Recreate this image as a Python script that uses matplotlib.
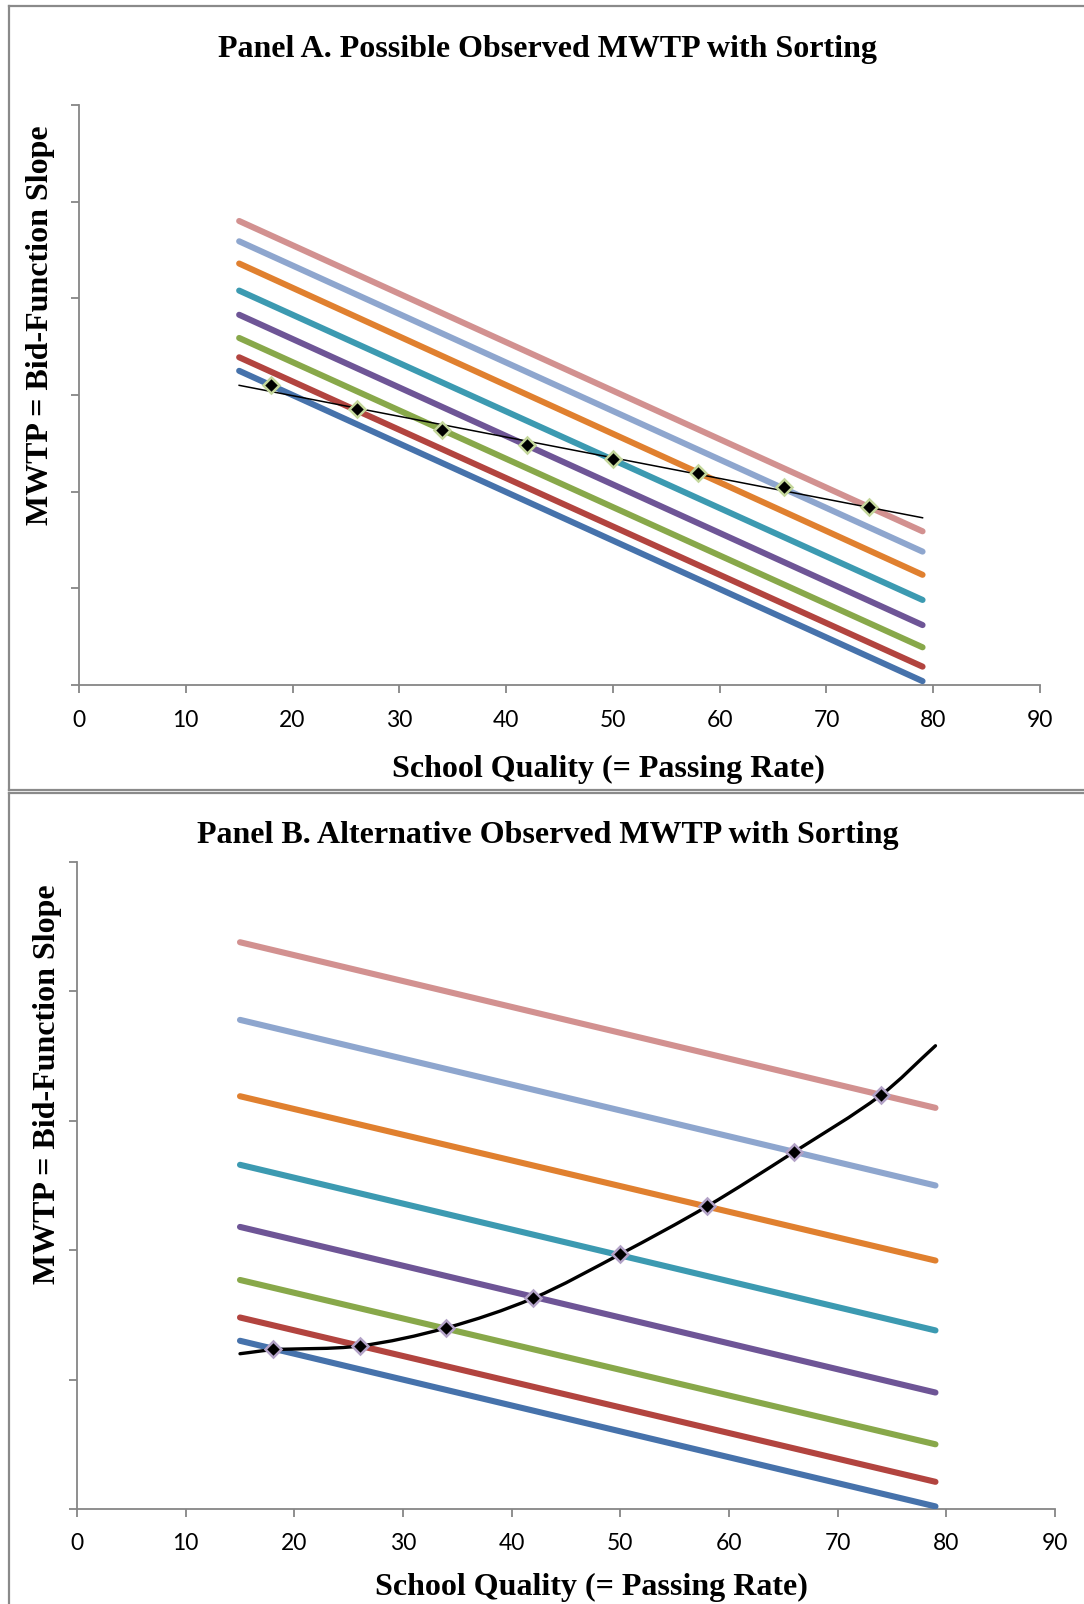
import numpy as np
import matplotlib
matplotlib.use('Agg')
import matplotlib.pyplot as plt
from matplotlib.path import Path
from matplotlib.patches import PathPatch
from matplotlib.lines import Line2D

W, H = 1084, 1604  # output size in pixels

# x range covered by every bid-function line
x_span = [15, 79]
x_ticks = [0, 10, 20, 30, 40, 50, 60, 70, 80, 90]

# Panel A: bid-function values at x=15 and x=79 (bottom line first)
a_start = [32.5, 33.9, 35.9, 38.3, 40.8, 43.6, 45.9, 48.0]
a_end = [0.4, 1.9, 3.9, 6.2, 8.8, 11.4, 13.8, 15.9]
a_obs_x = [18, 26, 34, 42, 50, 58, 66, 74]
a_obs_y = [31.0, 28.5, 26.4, 24.8, 23.4, 21.9, 20.5, 18.4]
a_fit_y = [31.0, 17.3]  # observed MWTP line at x=15 and x=79

# Panel B
b_start = [13.0, 14.8, 17.7, 21.8, 26.6, 31.9, 37.8, 43.8]
b_end = [0.2, 2.1, 5.0, 9.0, 13.8, 19.2, 25.0, 31.0]
b_obs_x = [18, 26, 34, 42, 50, 58, 66, 74]
b_obs_y = [12.4, 12.6, 14.0, 16.3, 19.7, 23.4, 27.6, 32.0]
b_curve_x = [15, 18, 26, 34, 42, 50, 58, 66, 74, 79]
b_curve_y = [12.0, 12.3, 12.6, 14.0, 16.3, 19.7, 23.4, 27.6, 32.0, 35.8]

line_colors = ['#4672AB', '#B2443F', '#88A84A', '#6E5596',
               '#3C9AB1', '#E0802F', '#8EA6CE', '#D29190']
axis_gray = '#868686'
serif = 'Liberation Serif'
tick_font = 'Lato'


def fx(x):
    return x / W


def fy(y):
    return 1 - y / H


def smooth_path(xs, ys):
    '''Smoothed line: cubic hermite in x drawn as bezier segments.'''
    xs = np.asarray(xs, float)
    ys = np.asarray(ys, float)
    n = len(xs)
    m = np.empty(n)
    m[0] = (ys[1] - ys[0]) / (xs[1] - xs[0])
    m[-1] = (ys[-1] - ys[-2]) / (xs[-1] - xs[-2])
    for i in range(1, n - 1):
        m[i] = (ys[i + 1] - ys[i - 1]) / (xs[i + 1] - xs[i - 1])
    verts = [(xs[0], ys[0])]
    codes = [Path.MOVETO]
    for i in range(n - 1):
        dx = xs[i + 1] - xs[i]
        verts += [(xs[i] + dx / 3, ys[i] + m[i] * dx / 3),
                  (xs[i + 1] - dx / 3, ys[i + 1] - m[i + 1] * dx / 3),
                  (xs[i + 1], ys[i + 1])]
        codes += [Path.CURVE4] * 3
    return Path(verts, codes)


def style_axes(ax, ymax, pad):
    ax.set_xlim(0, 90)
    ax.set_ylim(0, ymax)
    ax.set_xticks(x_ticks)
    ax.set_yticks(np.arange(0, ymax + 1, 10))
    ax.set_yticklabels([])
    for s in ['top', 'right']:
        ax.spines[s].set_visible(False)
    for s in ['left', 'bottom']:
        ax.spines[s].set_color(axis_gray)
        ax.spines[s].set_linewidth(1.3)
        ax.spines[s].set_zorder(0.5)
    ax.tick_params(axis='both', direction='out', color=axis_gray,
                   width=1.3, length=6)
    ax.tick_params(axis='x', labelsize=16.5, pad=pad)
    for lab in ax.get_xticklabels():
        lab.set_fontfamily(tick_font)


fig = plt.figure(figsize=(W / 100, H / 100), dpi=100)

# ---- Panel A ----
axA = fig.add_axes([fx(79), fy(685), fx(1040) - fx(79), fy(105) - fy(685)])
for i in range(len(a_start)):
    axA.plot(x_span, [a_start[i], a_end[i]], color=line_colors[i],
             lw=4.4, solid_capstyle='round', zorder=2)
axA.plot(x_span, a_fit_y, color='black', lw=1.1, zorder=3)
axA.plot(a_obs_x, a_obs_y, ls='none', marker='D', ms=8.5,
         mfc='black', mec='#C4D79B', mew=1.8, zorder=4)
style_axes(axA, 60, 12)

# ---- Panel B ----
axB = fig.add_axes([fx(77), fy(1509), fx(1055) - fx(77), fy(862) - fy(1509)])
for i in range(len(b_start)):
    axB.plot(x_span, [b_start[i], b_end[i]], color=line_colors[i],
             lw=4.4, solid_capstyle='round', zorder=2)
curve = PathPatch(smooth_path(b_curve_x, b_curve_y), fill=False,
                  edgecolor='black', lw=2.4, capstyle='round', zorder=3)
axB.add_patch(curve)
axB.plot(b_obs_x, b_obs_y, ls='none', marker='D', ms=8.5,
         mfc='black', mec='#B3A2C7', mew=1.8, zorder=4)
style_axes(axB, 50, 11)

# ---- titles and labels ----
title_kw = dict(family=serif, weight='bold', fontsize=23,
                ha='center', va='center')
fig.text(fx(547), fy(49), 'Panel A. Possible Observed MWTP with Sorting', **title_kw)
fig.text(fx(548), fy(835), 'Panel B. Alternative Observed MWTP with Sorting', **title_kw)
fig.text(fx(608), fy(769), 'School Quality (= Passing Rate)', **title_kw)
fig.text(fx(591), fy(1587), 'School Quality (= Passing Rate)', **title_kw)
fig.text(fx(41), fy(325), 'MWTP = Bid-Function Slope', rotation=90, **title_kw)
fig.text(fx(48), fy(1084), 'MWTP = Bid-Function Slope', rotation=90, **title_kw)

# ---- panel frames ----
frame_kw = dict(color='#8A8A8A', lw=1.6, transform=fig.transFigure)
fig.add_artist(Line2D([fx(9), fx(9)], [fy(6), fy(790)], **frame_kw))
fig.add_artist(Line2D([fx(9), fx(W + 5)], [fy(6), fy(6)], **frame_kw))
fig.add_artist(Line2D([fx(9), fx(W + 5)], [fy(790), fy(790)], **frame_kw))
fig.add_artist(Line2D([fx(9), fx(W + 5)], [fy(793), fy(793)], **frame_kw))
fig.add_artist(Line2D([fx(9), fx(9)], [fy(793), fy(H + 5)], **frame_kw))

fig.savefig('out.png', dpi=100)
